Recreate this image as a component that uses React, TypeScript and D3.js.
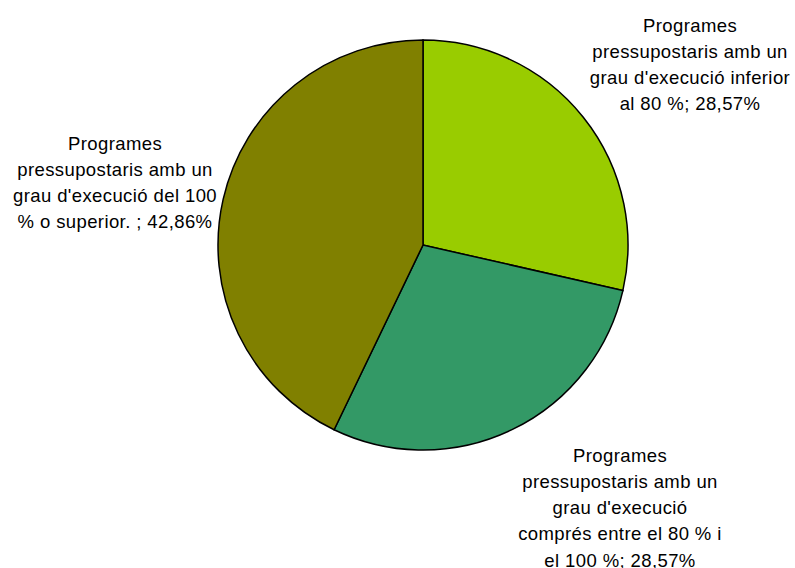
import React from "react";
import * as d3 from "d3";

const categories = [
  "Programes pressupostaris amb un grau d'execució inferior al 80 %",
  "Programes pressupostaris amb un grau d'execució comprés entre el 80 % i el 100 %",
  "Programes pressupostaris amb un grau d'execució del 100 % o superior. ",
];
const values = [28.57, 28.57, 42.86];
const valueLabels = ["28,57%", "28,57%", "42,86%"];
const colors = ["#99CC00", "#339966", "#808000"];
const labelLines = [
  ["Programes", "pressupostaris amb un", "grau d'execució inferior", "al 80 %; 28,57%"],
  ["Programes", "pressupostaris amb un", "grau d'execució", "comprés entre el 80 % i", "el 100 %; 28,57%"],
  ["Programes", "pressupostaris amb un", "grau d'execució del 100", "% o superior. ; 42,86%"],
];
const labelPos = [
  { x: 690, y: 25 },
  { x: 620, y: 455 },
  { x: 115, y: 143 },
];

export default function App() {
  const W = 795, H = 568;
  const cx = 423, cy = 245, r = 205;
  const pie = d3.pie<number>().sort(null).value((d) => d);
  const arcs = pie(values);
  const arc = d3.arc<d3.PieArcDatum<number>>().innerRadius(0).outerRadius(r);
  return (
    <svg width={W} height={H} style={{ position: "absolute", left: 0, top: 0, background: "#fff" }}>
      <g transform={`translate(${cx},${cy})`}>
        {arcs.map((a, i) => (
          <path key={i} d={arc(a) || ""} fill={colors[i]} stroke="#000" strokeWidth={1.5} />
        ))}
      </g>
      {labelLines.map((lines, i) => (
        <text key={i} fontFamily="'Liberation Sans', Arial, sans-serif" fontSize={18.5} letterSpacing={0.4} fill="#000" textAnchor="middle">
          {lines.map((l, j) => (
            <tspan key={j} x={labelPos[i].x} y={labelPos[i].y + j * 26.3} dominantBaseline="central">
              {l}
            </tspan>
          ))}
        </text>
      ))}
    </svg>
  );
}
